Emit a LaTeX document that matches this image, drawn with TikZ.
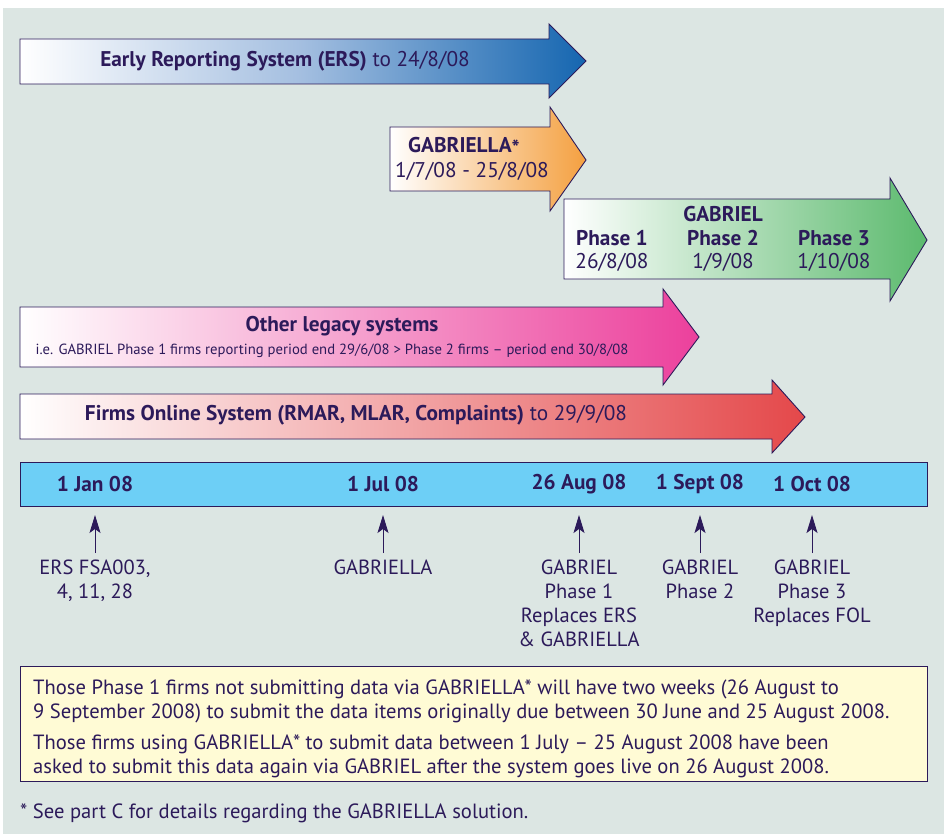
\documentclass[tikz,border=0pt]{standalone}
\usepackage{fontspec}
\setmainfont{PT Sans}
\usetikzlibrary{arrows.meta}
\definecolor{bgc}{HTML}{DCE6E3}
\definecolor{navy}{HTML}{2C1A5A}
\definecolor{ersblue}{HTML}{1566B0}
\definecolor{ersmid}{HTML}{A3BEE0}
\definecolor{orng}{HTML}{F4A040}
\definecolor{grn}{HTML}{5CBA6E}
\definecolor{pnk}{HTML}{EC409C}
\definecolor{redc}{HTML}{E4484A}
\definecolor{barc}{HTML}{6DCFF6}
\definecolor{notec}{HTML}{FFFBD5}
\tikzset{
  outl/.style={draw=navy, line width=0.9pt},
  lbl/.style={text=navy, font=\fontsize{21.3}{24}\selectfont, inner sep=0pt},
  datel/.style={text=navy, font=\fontsize{21.3}{24}\selectfont\bfseries, inner sep=0pt},
  sub/.style={text=navy, font=\fontsize{20.5}{24}\selectfont, inner sep=0pt, align=center},
  up/.style={draw=navy, line width=1pt, -{Stealth[length=18pt,width=11pt,inset=4pt]}},
  notet/.style={text=navy, font=\fontsize{20.6}{24}\selectfont, inner sep=0pt, align=left, anchor=west},
}
\begin{document}
\begin{tikzpicture}[x=1pt,y=-1pt]
\fill[white] (0,0) rectangle (944,834);
\fill[bgc] (3,8) rectangle (944,834);
\useasboundingbox (0,0) rectangle (944,834);
% ERS arrow
\shade[left color=white, right color=ersblue, middle color=ersmid] (20,39) -- (549,39) -- (549,24) -- (586,61) -- (549,98) -- (549,84) -- (20,84) -- cycle;
\draw[outl] (20,39) -- (549,39) -- (549,24) -- (586,61) -- (549,98) -- (549,84) -- (20,84) -- cycle;
\node[lbl] (ers) at (285,61) {\textbf{Early Reporting System (ERS)} to 24/8/08};
% GABRIELLA arrow
\shade[left color=white, right color=orng] (390,127) -- (550,127) -- (550,107) -- (586,160) -- (550,211) -- (550,191) -- (390,191) -- cycle;
\draw[outl] (390,127) -- (550,127) -- (550,107) -- (586,160) -- (550,211) -- (550,191) -- (390,191) -- cycle;
\node[datel] (gla) at (464,146) {GABRIELLA\raisebox{-0.3ex}{*}};
\node[lbl] (glad) at (472,171) {1/7/08 - 25/8/08};
% GABRIEL arrow
\shade[left color=white, right color=grn] (564,199) -- (890,199) -- (890,178) -- (927,240) -- (890,301) -- (890,279) -- (564,279) -- cycle;
\draw[outl] (564,199) -- (890,199) -- (890,178) -- (927,240) -- (890,301) -- (890,279) -- (564,279) -- cycle;
\node[datel] (gab) at (723,214) {GABRIEL};
\node[datel] (p1) at (612,238) {Phase 1};
\node[datel] (p2) at (723,238) {Phase 2};
\node[datel] (p3) at (834,238) {Phase 3};
\node[lbl] (d1) at (612,262) {26/8/08};
\node[lbl] (d2) at (723,262) {1/9/08};
\node[lbl] (d3) at (834,262) {1/10/08};
% Other legacy arrow
\shade[left color=white, right color=pnk] (20,307) -- (663,307) -- (663,289) -- (699,337) -- (663,385) -- (663,367) -- (20,367) -- cycle;
\draw[outl] (20,307) -- (663,307) -- (663,289) -- (699,337) -- (663,385) -- (663,367) -- (20,367) -- cycle;
\node[datel] (oth) at (342,326) {Other legacy systems};
\node[lbl, font=\fontsize{14.7}{16}\selectfont] (othd) at (332,351) {i.e. GABRIEL Phase 1 firms reporting period end 29/6/08 > Phase 2 firms – period end 30/8/08};
% FOS arrow
\shade[left color=white, right color=redc] (20,394) -- (772,394) -- (772,380) -- (805,417) -- (772,453) -- (772,439) -- (20,439) -- cycle;
\draw[outl] (20,394) -- (772,394) -- (772,380) -- (805,417) -- (772,453) -- (772,439) -- (20,439) -- cycle;
\node[lbl] (fos) at (356,415) {\textbf{Firms Online System (RMAR, MLAR, Complaints)} to 29/9/08};
% timeline bar
\draw[outl, fill=barc] (20,462) rectangle (927,506);
\node[datel] (t1) at (95,484) {1 Jan 08};
\node[datel] (t2) at (383,484) {1 Jul 08};
\node[datel] (t3) at (579,484) {26 Aug 08};
\node[datel] (t4) at (700,484) {1 Sept 08};
\node[datel] (t5) at (812,484) {1 Oct 08};
\foreach \n/\x in {1/95,2/383,3/579,4/700,5/812}{
  \coordinate (b\n) at (\x,515);
  \coordinate (f\n) at (\x,553);
}
\draw[up] (f1) -- (b1);
\draw[up] (f2) -- (b2);
\draw[up] (f3) -- (b3);
\draw[up] (f4) -- (b4);
\draw[up] (f5) -- (b5);
\node[sub, anchor=north] (l1) at (95,560) {ERS FSA003,\\4, 11, 28};
\node[sub, anchor=north] (l2) at (383,560) {GABRIELLA};
\node[sub, anchor=north] (l3) at (579,560) {GABRIEL\\Phase 1\\Replaces ERS\\\& GABRIELLA};
\node[sub, anchor=north] (l4) at (700,560) {GABRIEL\\Phase 2};
\node[sub, anchor=north] (l5) at (812,560) {GABRIEL\\Phase 3\\Replaces FOL};
% note box
\draw[outl, fill=notec] (20,666) rectangle (927,781);
\node[notet] (n1) at (33,701) {Those Phase 1 firms not submitting data via GABRIELLA* will have two weeks (26 August to\\9 September 2008) to submit the data items originally due between 30 June and 25 August 2008.};
\node[notet] (n2) at (33,756) {Those firms using GABRIELLA* to submit data between 1 July – 25 August 2008 have been\\asked to submit this data again via GABRIEL after the system goes live on 26 August 2008.};
\node[notet] (fn) at (20,813) {* See part C for details regarding the GABRIELLA solution.};
\end{tikzpicture}
\end{document}
